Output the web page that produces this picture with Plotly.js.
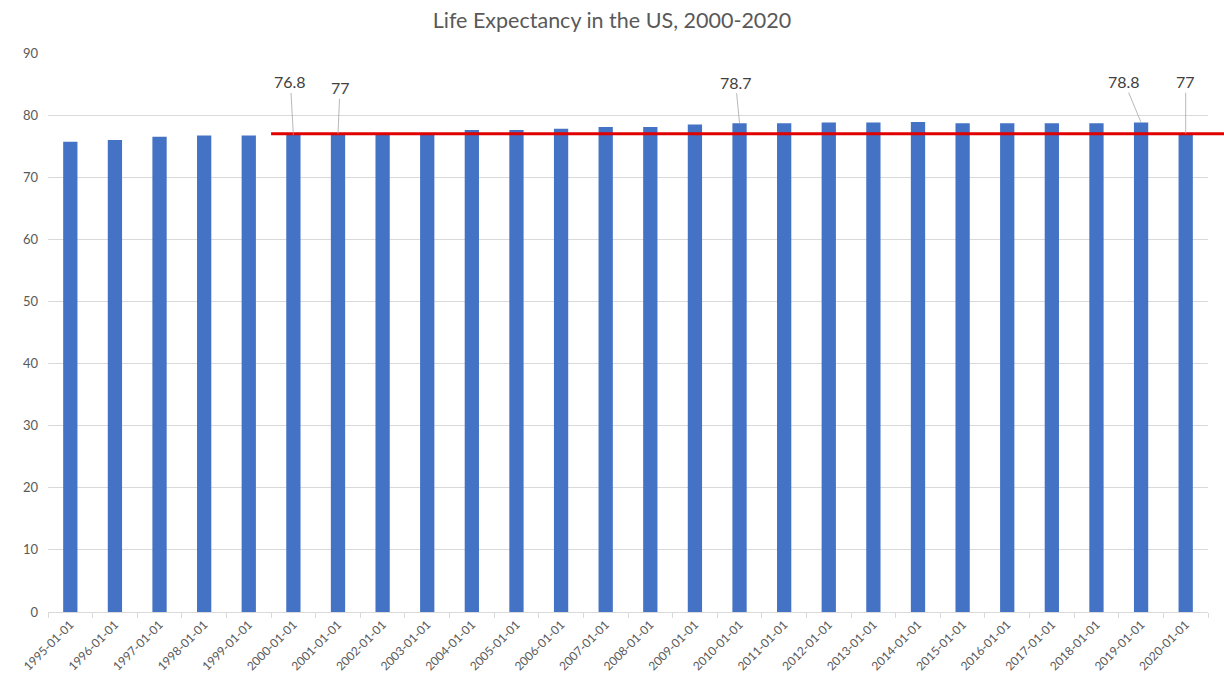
<!DOCTYPE html>
<html>
<head>
<meta charset="utf-8">
<script src="https://cdn.plot.ly/plotly-3.0.1.min.js"></script>
<style>html,body{margin:0;padding:0;background:#fff;}#chart{width:1224px;height:684px;}</style>
</head>
<body>
<div id="chart"></div>
<script>
var categories = ["1995-01-01","1996-01-01","1997-01-01","1998-01-01","1999-01-01","2000-01-01","2001-01-01","2002-01-01","2003-01-01","2004-01-01","2005-01-01","2006-01-01","2007-01-01","2008-01-01","2009-01-01","2010-01-01","2011-01-01","2012-01-01","2013-01-01","2014-01-01","2015-01-01","2016-01-01","2017-01-01","2018-01-01","2019-01-01","2020-01-01"];
var lifeExpectancy = [75.7,76.0,76.5,76.7,76.7,76.8,77.0,77.0,77.1,77.6,77.6,77.8,78.1,78.1,78.5,78.7,78.7,78.8,78.8,78.9,78.7,78.7,78.7,78.7,78.8,77.0];
var labeledCategories = ["2000-01-01","2001-01-01","2010-01-01","2019-01-01","2020-01-01"];
var referenceValue = 77;
var referenceStart = "2000-01-01";
var yTicks = [0,10,20,30,40,50,60,70,80,90];

var FONT = "Lato, 'Open Sans', sans-serif";
var labelOffsets = [[-3,-53],[2,-46],[-4,-41],[-17,-41],[0,-52]];

var annotations = labeledCategories.map(function(c, i){
  var v = lifeExpectancy[categories.indexOf(c)];
  return {
    x: c, y: v, xref: 'x', yref: 'y',
    text: String(v),
    showarrow: true, arrowhead: 0, arrowwidth: 0.8, arrowcolor: '#a6a6a6',
    ax: labelOffsets[i][0], ay: labelOffsets[i][1],
    font: {family: FONT, size: 16, color: '#404040'},
    standoff: 0, startstandoff: 0
  };
});

var startIdx = categories.indexOf(referenceStart);
var n = categories.length;

var trace = {
  type: 'bar',
  x: categories,
  y: lifeExpectancy,
  marker: {color: '#4472C4'},
  hoverinfo: 'x+y'
};

var layout = {
  width: 1224, height: 684,
  margin: {l: 48, r: 16, t: 53, b: 72},
  paper_bgcolor: '#fff', plot_bgcolor: '#fff',
  title: {text: 'Life Expectancy in the US, 2000-2020', x: 0.5, xanchor: 'center', y: 0.97, yanchor: 'middle',
          font: {family: FONT, size: 21.5, color: '#595959'}},
  bargap: 0.68,
  showlegend: false,
  xaxis: {
    type: 'category',
    tickangle: -45,
    tickfont: {family: FONT, size: 12, color: '#595959'},
    ticks: 'outside', tickson: 'boundaries', ticklen: 5, tickcolor: '#d9d9d9',
    showline: true, linecolor: '#d9d9d9', linewidth: 1,
    showgrid: false, zeroline: false
  },
  yaxis: {
    range: [0, 90],
    tickvals: yTicks,
    tickfont: {family: FONT, size: 13, color: '#595959'},
    showgrid: true, gridcolor: '#d9d9d9', gridwidth: 1,
    zeroline: true, zerolinecolor: '#d9d9d9',
    showline: false, ticks: '', ticklabelstandoff: 9
  },
  shapes: [{
    type: 'line', xref: 'paper', yref: 'y',
    x0: (startIdx) / n, x1: 1.014,
    y0: referenceValue, y1: referenceValue,
    line: {color: '#e00000', width: 3},
    layer: 'above'
  }],
  annotations: annotations
};

Plotly.newPlot('chart', [trace], layout, {displayModeBar: false, staticPlot: true});
</script>
</body>
</html>
